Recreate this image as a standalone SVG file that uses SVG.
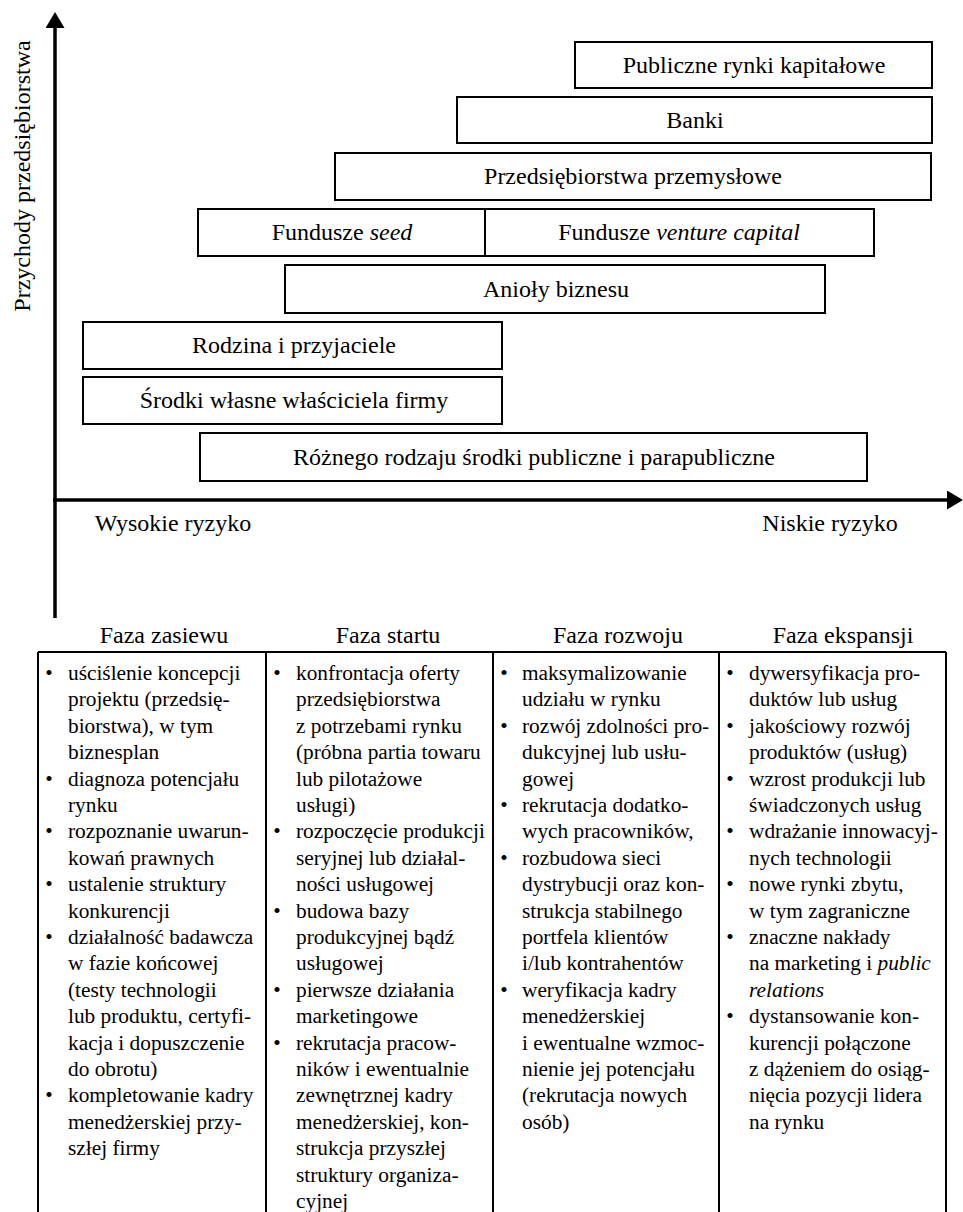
<svg xmlns="http://www.w3.org/2000/svg" width="963" height="1212" viewBox="0 0 963 1212" font-family="'Liberation Serif', 'DejaVu Serif', serif">
<style>
  text { font-family: 'Liberation Serif', 'DejaVu Serif', serif; fill: #000; }
  .lbl { font-size: 24px; text-anchor: middle; }
  .box { fill: #fff; stroke: #000; stroke-width: 2; }
  .axis { stroke: #000; stroke-width: 3.5; fill: none; }
  .grid { stroke: #000; stroke-width: 2; fill: none; }
  .t { font-size: 21.33px; }
  .b { font-size: 21.33px; text-anchor: middle; }
  .i { font-style: italic; }
</style>
<defs>
  <marker id="arrow" markerUnits="userSpaceOnUse" markerWidth="16" markerHeight="19" refX="0" refY="9.5" orient="auto">
    <path d="M0,0 L16,9.5 L0,19 Z" fill="#000"/>
  </marker>
</defs>
<rect width="963" height="1212" fill="#fff"/>

<g id="connectors">
  <line class="axis" x1="55" y1="618" x2="55" y2="28" marker-end="url(#arrow)"/>
  <line class="axis" x1="53" y1="500" x2="947" y2="500" marker-end="url(#arrow)"/>
</g>

<g id="axis-labels">
  <text class="lbl" transform="translate(30,176) rotate(-90)">Przychody przedsiębiorstwa</text>
  <text class="lbl" x="173" y="531">Wysokie ryzyko</text>
  <text class="lbl" x="830" y="531">Niskie ryzyko</text>
</g>

<g id="node-publiczne">
  <rect class="box" x="575" y="42" width="357" height="46"/>
  <text class="lbl" x="754" y="73">Publiczne rynki kapitałowe</text>
</g>
<g id="node-banki">
  <rect class="box" x="457" y="97" width="475" height="46"/>
  <text class="lbl" x="695" y="128">Banki</text>
</g>
<g id="node-przemyslowe">
  <rect class="box" x="335" y="153" width="596" height="47"/>
  <text class="lbl" x="633" y="184">Przedsiębiorstwa przemysłowe</text>
</g>
<g id="node-seed">
  <rect class="box" x="198" y="209" width="287" height="47"/>
  <text class="lbl" x="342" y="240">Fundusze <tspan class="i">seed</tspan></text>
</g>
<g id="node-vc">
  <rect class="box" x="485" y="209" width="389" height="47"/>
  <text class="lbl" x="679" y="240">Fundusze <tspan class="i">venture capital</tspan></text>
</g>
<g id="node-anioly">
  <rect class="box" x="285" y="265" width="540" height="48"/>
  <text class="lbl" x="556" y="297">Anioły biznesu</text>
</g>
<g id="node-rodzina">
  <rect class="box" x="83" y="322" width="419" height="47"/>
  <text class="lbl" x="294" y="353">Rodzina i przyjaciele</text>
</g>
<g id="node-srodki">
  <rect class="box" x="83" y="377" width="419" height="47"/>
  <text class="lbl" x="294" y="408">Środki własne właściciela firmy</text>
</g>
<g id="node-publiczne-srodki">
  <rect class="box" x="200" y="433" width="667" height="48"/>
  <text class="lbl" x="534" y="465">Różnego rodzaju środki publiczne i parapubliczne</text>
</g>

<g id="table">
  <line class="grid" x1="38" y1="652" x2="946" y2="652"/>
  <line class="grid" x1="38" y1="652" x2="38" y2="1212"/>
  <line class="grid" x1="266" y1="652" x2="266" y2="1212"/>
  <line class="grid" x1="493" y1="652" x2="493" y2="1212"/>
  <line class="grid" x1="719" y1="652" x2="719" y2="1212"/>
  <line class="grid" x1="946" y1="652" x2="946" y2="1212"/>
  <text class="lbl" x="164" y="643">Faza zasiewu</text>
  <text class="lbl" x="388" y="643">Faza startu</text>
  <text class="lbl" x="618" y="643">Faza rozwoju</text>
  <text class="lbl" x="843" y="643">Faza ekspansji</text>
</g>

<g id="col-zasiew">
  <text class="b" x="49" y="680">•</text>
  <text class="b" x="49" y="785.6">•</text>
  <text class="b" x="49" y="838.4">•</text>
  <text class="b" x="49" y="891.2">•</text>
  <text class="b" x="49" y="944">•</text>
  <text class="b" x="49" y="1102.4">•</text>
  <text class="t" x="68" y="680">uściślenie koncepcji</text>
  <text class="t" x="68" y="706.4">projektu (przedsię-</text>
  <text class="t" x="68" y="732.8">biorstwa), w tym</text>
  <text class="t" x="68" y="759.2">biznesplan</text>
  <text class="t" x="68" y="785.6">diagnoza potencjału</text>
  <text class="t" x="68" y="812">rynku</text>
  <text class="t" x="68" y="838.4">rozpoznanie uwarun-</text>
  <text class="t" x="68" y="864.8">kowań prawnych</text>
  <text class="t" x="68" y="891.2">ustalenie struktury</text>
  <text class="t" x="68" y="917.6">konkurencji</text>
  <text class="t" x="68" y="944">działalność badawcza</text>
  <text class="t" x="68" y="970.4">w fazie końcowej</text>
  <text class="t" x="68" y="996.8">(testy technologii</text>
  <text class="t" x="68" y="1023.2">lub produktu, certyfi-</text>
  <text class="t" x="68" y="1049.6">kacja i dopuszczenie</text>
  <text class="t" x="68" y="1076">do obrotu)</text>
  <text class="t" x="68" y="1102.4">kompletowanie kadry</text>
  <text class="t" x="68" y="1128.8">menedżerskiej przy-</text>
  <text class="t" x="68" y="1155.2">szłej firmy</text>
</g>

<g id="col-start">
  <text class="b" x="277" y="680">•</text>
  <text class="b" x="277" y="838.4">•</text>
  <text class="b" x="277" y="917.6">•</text>
  <text class="b" x="277" y="996.8">•</text>
  <text class="b" x="277" y="1049.6">•</text>
  <text class="t" x="296" y="680">konfrontacja oferty</text>
  <text class="t" x="296" y="706.4">przedsiębiorstwa</text>
  <text class="t" x="296" y="732.8">z potrzebami rynku</text>
  <text class="t" x="296" y="759.2">(próbna partia towaru</text>
  <text class="t" x="296" y="785.6">lub pilotażowe</text>
  <text class="t" x="296" y="812">usługi)</text>
  <text class="t" x="296" y="838.4">rozpoczęcie produkcji</text>
  <text class="t" x="296" y="864.8">seryjnej lub działal-</text>
  <text class="t" x="296" y="891.2">ności usługowej</text>
  <text class="t" x="296" y="917.6">budowa bazy</text>
  <text class="t" x="296" y="944">produkcyjnej bądź</text>
  <text class="t" x="296" y="970.4">usługowej</text>
  <text class="t" x="296" y="996.8">pierwsze działania</text>
  <text class="t" x="296" y="1023.2">marketingowe</text>
  <text class="t" x="296" y="1049.6">rekrutacja pracow-</text>
  <text class="t" x="296" y="1076">ników i ewentualnie</text>
  <text class="t" x="296" y="1102.4">zewnętrznej kadry</text>
  <text class="t" x="296" y="1128.8">menedżerskiej, kon-</text>
  <text class="t" x="296" y="1155.2">strukcja przyszłej</text>
  <text class="t" x="296" y="1181.6">struktury organiza-</text>
  <text class="t" x="296" y="1208">cyjnej</text>
</g>

<g id="col-rozwoj">
  <text class="b" x="504" y="680">•</text>
  <text class="b" x="504" y="732.8">•</text>
  <text class="b" x="504" y="812">•</text>
  <text class="b" x="504" y="864.8">•</text>
  <text class="b" x="504" y="996.8">•</text>
  <text class="t" x="522" y="680">maksymalizowanie</text>
  <text class="t" x="522" y="706.4">udziału w rynku</text>
  <text class="t" x="522" y="732.8">rozwój zdolności pro-</text>
  <text class="t" x="522" y="759.2">dukcyjnej lub usłu-</text>
  <text class="t" x="522" y="785.6">gowej</text>
  <text class="t" x="522" y="812">rekrutacja dodatko-</text>
  <text class="t" x="522" y="838.4">wych pracowników,</text>
  <text class="t" x="522" y="864.8">rozbudowa sieci</text>
  <text class="t" x="522" y="891.2">dystrybucji oraz kon-</text>
  <text class="t" x="522" y="917.6">strukcja stabilnego</text>
  <text class="t" x="522" y="944">portfela klientów</text>
  <text class="t" x="522" y="970.4">i/lub kontrahentów</text>
  <text class="t" x="522" y="996.8">weryfikacja kadry</text>
  <text class="t" x="522" y="1023.2">menedżerskiej</text>
  <text class="t" x="522" y="1049.6">i ewentualne wzmoc-</text>
  <text class="t" x="522" y="1076">nienie jej potencjału</text>
  <text class="t" x="522" y="1102.4">(rekrutacja nowych</text>
  <text class="t" x="522" y="1128.8">osób)</text>
</g>

<g id="col-ekspansja">
  <text class="b" x="730" y="680">•</text>
  <text class="b" x="730" y="732.8">•</text>
  <text class="b" x="730" y="785.6">•</text>
  <text class="b" x="730" y="838.4">•</text>
  <text class="b" x="730" y="891.2">•</text>
  <text class="b" x="730" y="944">•</text>
  <text class="b" x="730" y="1023.2">•</text>
  <text class="t" x="749" y="680">dywersyfikacja pro-</text>
  <text class="t" x="749" y="706.4">duktów lub usług</text>
  <text class="t" x="749" y="732.8">jakościowy rozwój</text>
  <text class="t" x="749" y="759.2">produktów (usług)</text>
  <text class="t" x="749" y="785.6">wzrost produkcji lub</text>
  <text class="t" x="749" y="812">świadczonych usług</text>
  <text class="t" x="749" y="838.4">wdrażanie innowacyj-</text>
  <text class="t" x="749" y="864.8">nych technologii</text>
  <text class="t" x="749" y="891.2">nowe rynki zbytu,</text>
  <text class="t" x="749" y="917.6">w tym zagraniczne</text>
  <text class="t" x="749" y="944">znaczne nakłady</text>
  <text class="t" x="749" y="970.4">na marketing i <tspan class="i">public</tspan></text>
  <text class="t i" x="749" y="996.8">relations</text>
  <text class="t" x="749" y="1023.2">dystansowanie kon-</text>
  <text class="t" x="749" y="1049.6">kurencji połączone</text>
  <text class="t" x="749" y="1076">z dążeniem do osiąg-</text>
  <text class="t" x="749" y="1102.4">nięcia pozycji lidera</text>
  <text class="t" x="749" y="1128.8">na rynku</text>
</g>
</svg>
